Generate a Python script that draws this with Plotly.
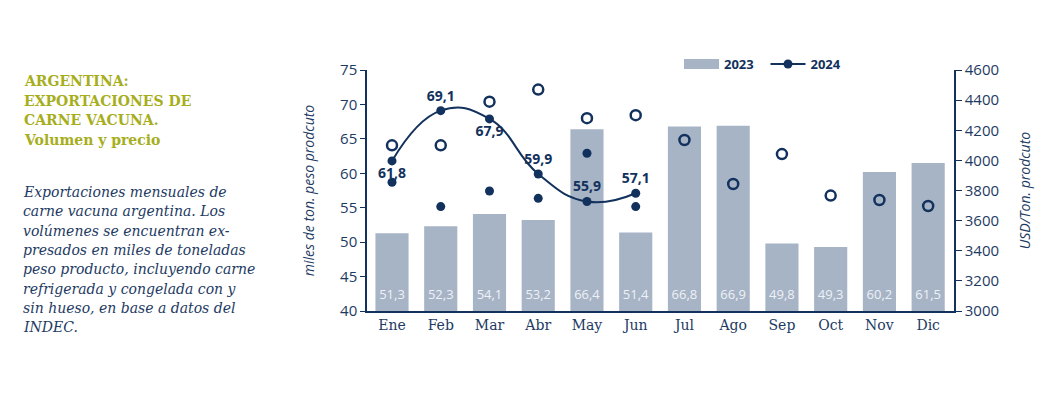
import plotly.graph_objects as go

months = ["Ene", "Feb", "Mar", "Abr", "May", "Jun", "Jul", "Ago", "Sep", "Oct", "Nov", "Dic"]
vol_2023 = [51.3, 52.3, 54.1, 53.2, 66.4, 51.4, 66.8, 66.9, 49.8, 49.3, 60.2, 61.5]
vol_2024 = [61.8, 69.1, 67.9, 59.9, 55.9, 57.1]
price_2023 = [4100, 4100, 4390, 4470, 4280, 4300, 4135, 3843, 4042, 3766, 3737, 3697]
price_2024 = [3855, 3693, 3797, 3748, 4047, 3693]
vol_2024_textpos = ["bottom center", "top center", "bottom center", "top center", "top center", "top center"]

title_lines = ["ARGENTINA:", "EXPORTACIONES DE", "CARNE VACUNA.", "Volumen y precio"]
desc_lines = [
    "Exportaciones mensuales de",
    "carne vacuna argentina. Los",
    "volúmenes se encuentran ex-",
    "presados en miles de toneladas",
    "peso producto, incluyendo carne",
    "refrigerada y congelada con y",
    "sin hueso, en base a datos del",
    "INDEC.",
]

NAVY = "#12315c"
TEXT_NAVY = "#1d3a63"
BAR = "#a7b4c6"
OLIVE = "#a6ae1c"

# page has an 8px body margin, so the figure is drawn 8px in and 16px smaller
OFF = 8
W, H = 1057 - 2 * OFF, 406 - 2 * OFF
L, R, T, B = 367 - OFF, 954 - OFF, 70 - OFF, 311 - OFF


def px(xp):
    return (xp - OFF - L) / (R - L)


def py(yp):
    return (B - (yp - OFF)) / (B - T)


fig = go.Figure()

fig.add_trace(go.Bar(
    x=months, y=vol_2023, name="2023", marker=dict(color=BAR, line=dict(width=0)),
    width=0.68, yaxis="y", showlegend=False,
))
# legend swatch for the 2023 bars (wide rectangle, as in the original)
fig.add_trace(go.Scatter(
    x=[None], y=[None], mode="lines", name="2023&nbsp;&nbsp;",
    line=dict(color=BAR, width=10), yaxis="y", hoverinfo="skip",
))
# bar value labels near the bottom of each bar
fig.add_trace(go.Scatter(
    x=months, y=[42.2] * len(months), mode="text",
    text=[f"{v:.1f}".replace(".", ",") for v in vol_2023],
    textfont=dict(family="Open Sans", size=13, color="#eef1f6"),
    showlegend=False, hoverinfo="skip", yaxis="y",
))
fig.add_trace(go.Scatter(
    x=months, y=price_2023, mode="markers", name="Precio 2023",
    marker=dict(symbol="circle-open", size=10, color=NAVY, line=dict(width=2.5, color=NAVY)),
    showlegend=False, yaxis="y2",
))
fig.add_trace(go.Scatter(
    x=months[:len(price_2024)], y=price_2024, mode="markers", name="Precio 2024",
    marker=dict(symbol="circle", size=9, color=NAVY),
    showlegend=False, yaxis="y2",
))
fig.add_trace(go.Scatter(
    x=months[:len(vol_2024)], y=vol_2024, mode="lines+markers+text", name="2024",
    line=dict(color=NAVY, width=2, shape="spline", smoothing=1.3),
    marker=dict(size=9, color=NAVY),
    text=[f"{v:.1f}".replace(".", ",") for v in vol_2024],
    textposition=vol_2024_textpos,
    textfont=dict(family="Open Sans", size=14, color=NAVY, weight="bold"),
    yaxis="y",
))

annotations = []
for i, line in enumerate(title_lines):
    annotations.append(dict(
        text=f"<b>{line}</b>", xref="paper", yref="paper", x=px(22), y=py(81 + i * 19.6),
        xanchor="left", yanchor="middle", showarrow=False,
        font=dict(family="DejaVu Serif", size=14, color=OLIVE),
    ))
for i, line in enumerate(desc_lines):
    annotations.append(dict(
        text=f"<i>{line}</i>", xref="paper", yref="paper", x=px(21), y=py(192 + i * 19.3),
        xanchor="left", yanchor="middle", showarrow=False,
        font=dict(family="DejaVu Serif", size=14, color=TEXT_NAVY),
    ))

fig.update_layout(
    width=W, height=H,
    margin=dict(l=L, r=W - R, t=T, b=H - B, pad=0),
    paper_bgcolor="white", plot_bgcolor="white",
    separators=",.",
    bargap=0.3,
    showlegend=True,
    legend=dict(
        orientation="h", x=px(679), y=py(64), xanchor="left", yanchor="middle",
        font=dict(family="Open Sans", size=13, color=NAVY, weight="bold"),
        itemwidth=35, traceorder="normal", bgcolor="rgba(0,0,0,0)",
    ),
    xaxis=dict(
        type="category", range=[-0.513, 11.53], showline=True, linecolor=NAVY, linewidth=1.5,
        ticks="", showgrid=False, zeroline=False,
        tickfont=dict(family="DejaVu Serif", size=14, color=TEXT_NAVY),
    ),
    yaxis=dict(
        range=[40, 75], dtick=5, showline=True, linecolor=NAVY, linewidth=1.5,
        ticks="outside", ticklen=5, tickcolor=NAVY, showgrid=False, zeroline=False,
        tickfont=dict(family="Open Sans", size=15, color=TEXT_NAVY),
        title=dict(text="<i>miles de ton. peso prodcuto</i>", standoff=22,
                   font=dict(family="Open Sans", size=14, color=TEXT_NAVY)),
    ),
    yaxis2=dict(
        range=[3000, 4600], dtick=200, overlaying="y", side="right",
        showline=True, linecolor=NAVY, linewidth=1.5,
        ticks="outside", ticklen=6, tickcolor=NAVY, showgrid=False, zeroline=False,
        tickfont=dict(family="Open Sans", size=15, color=TEXT_NAVY),
        title=dict(text="<i>USD/Ton. prodcuto</i>", standoff=22,
                   font=dict(family="Open Sans", size=14, color=TEXT_NAVY)),
    ),
    annotations=annotations,
)

fig.write_html("out.html")
